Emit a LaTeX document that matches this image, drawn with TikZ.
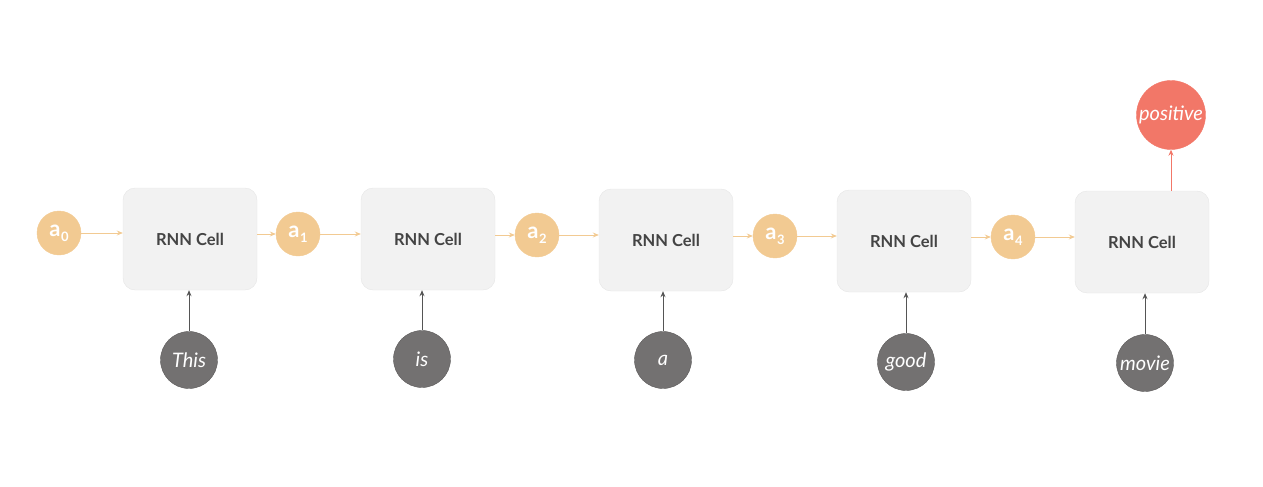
\documentclass[tikz,border=0pt]{standalone}
\usepackage{fontspec}
\setmainfont{Lato}
\usetikzlibrary{arrows.meta}
\definecolor{aorange}{HTML}{F2CA92}
\definecolor{wordgray}{HTML}{737171}
\definecolor{posred}{HTML}{F27768}
\definecolor{cellfill}{HTML}{F2F2F2}
\definecolor{celledge}{HTML}{E6E6E6}
\definecolor{celltext}{HTML}{444444}
\definecolor{arrgray}{HTML}{555555}
\newcommand{\asub}[1]{a\kern0.5pt\raisebox{-5pt}{\fontsize{13}{13}\selectfont #1}}
\begin{document}
\begin{tikzpicture}[x=1pt,y=-1pt,
  cellbox/.style={draw=celledge,fill=cellfill,rounded corners=12pt,minimum width=134pt,minimum height=102pt,inner sep=0pt,font=\fontsize{16.5}{16.5}\selectfont\bfseries,text=celltext},
  astate/.style={circle,fill=aorange,draw=aorange,minimum size=44pt,inner sep=0pt,text=white,font=\fontsize{22}{22}\selectfont\bfseries},
  word/.style={circle,fill=wordgray,draw=wordgray!80!black,minimum size=57pt,inner sep=0pt,text=white,font=\fontsize{20}{20}\selectfont\itshape},
  outnode/.style={circle,fill=posred,draw=posred,minimum size=69pt,inner sep=0pt,text=white,font=\fontsize{20}{20}\selectfont\itshape},
  harrow/.style={-{Stealth[length=6pt,width=5pt]},aorange,line width=0.9pt},
  varrow/.style={-{Stealth[length=6pt,width=5pt]},arrgray,line width=0.9pt},
  oarrow/.style={-{Stealth[length=6pt,width=5pt]},posred,line width=0.9pt}]
\useasboundingbox (0,0) rectangle (1263,487);
\node[cellbox] (c1) at (190,239) {RNN Cell};
\node[cellbox] (c2) at (428,239) {RNN Cell};
\node[cellbox] (c3) at (666,240) {RNN Cell};
\node[cellbox] (c4) at (904,241) {RNN Cell};
\node[cellbox] (c5) at (1142,242) {RNN Cell};
\node[astate] (a0) at (59,233) {\asub{0}};
\node[astate] (a1) at (298,234) {\asub{1}};
\node[astate] (a2) at (537,235) {\asub{2}};
\node[astate] (a3) at (775,236) {\asub{3}};
\node[astate] (a4) at (1013,237) {\asub{4}};
\node[word] (w1) at (189,360) {This};
\node[word] (w2) at (422,359) {is};
\node[word] (w3) at (663,360) {a};
\node[word] (w4) at (906,362) {good};
\node[word] (w5) at (1145,363) {movie};
\node[outnode] (pos) at (1171,115) {positive};
\draw[harrow] (a0.east) -- (a0.east -| c1.west);
\draw[harrow] (a1.west -| c1.east) -- (a1.west);
\draw[harrow] (a1.east) -- (a1.east -| c2.west);
\draw[harrow] (a2.west -| c2.east) -- (a2.west);
\draw[harrow] (a2.east) -- (a2.east -| c3.west);
\draw[harrow] (a3.west -| c3.east) -- (a3.west);
\draw[harrow] (a3.east) -- (a3.east -| c4.west);
\draw[harrow] (a4.west -| c4.east) -- (a4.west);
\draw[harrow] (a4.east) -- (a4.east -| c5.west);
\draw[varrow] (w1.north) -- (w1.north |- c1.south);
\draw[varrow] (w2.north) -- (w2.north |- c2.south);
\draw[varrow] (w3.north) -- (w3.north |- c3.south);
\draw[varrow] (w4.north) -- (w4.north |- c4.south);
\draw[varrow] (w5.north) -- (w5.north |- c5.south);
\draw[oarrow] (pos.south |- c5.north) -- (pos.south);
\end{tikzpicture}
\end{document}
